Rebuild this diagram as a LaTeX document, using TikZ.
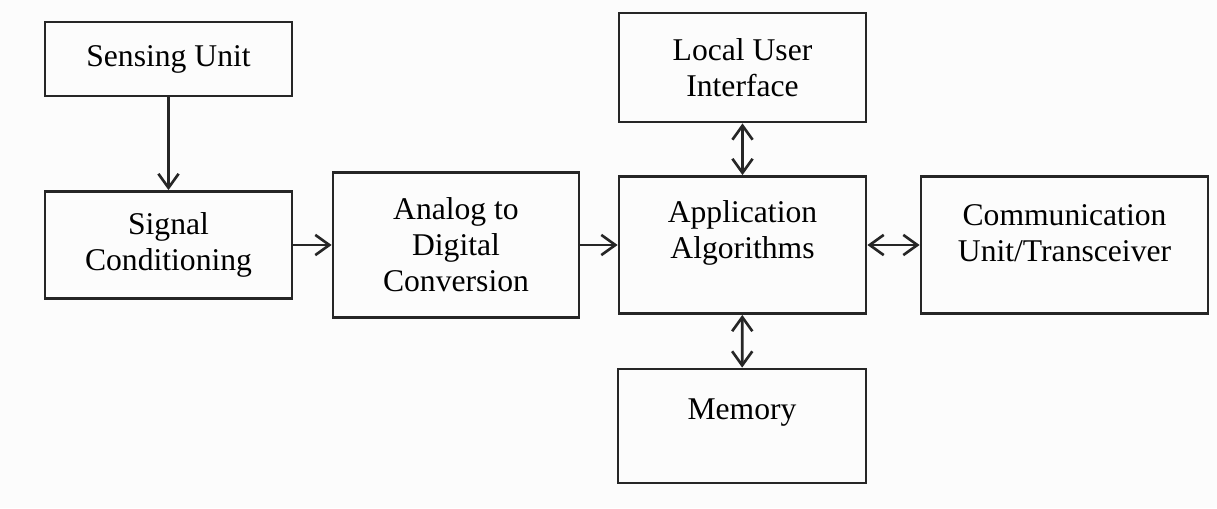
\documentclass[tikz,border=0pt]{standalone}
\usepackage{fontspec}
\setmainfont{Liberation Serif}
\usepackage{tikz}
\usetikzlibrary{arrows.meta,positioning}

\tikzset{
  blk/.style={draw=black!85, line width=1.6pt, rectangle, align=center, inner sep=0pt, font=\fontsize{18}{20.5}\selectfont},
  lbl/.style={align=center, inner sep=0pt, font=\fontsize{18}{20.5}\selectfont},
  link/.style={draw=black!85, line width=1.5pt},
  >={Straight Barb[length=8pt,width=11.5pt]}
}

\begin{document}
\begin{tikzpicture}
\useasboundingbox (0,0) rectangle (24.34,10.16);
\fill[black!1] (0,0) rectangle (24.34,10.16);

\node[blk, minimum width=4.94cm, minimum height=1.48cm] (sense) at (3.37,8.98) {Sensing Unit};
\node[blk, minimum width=4.94cm, minimum height=2.14cm] (sig) at (3.37,5.26) {Signal\\Conditioning};
\node[blk, minimum width=4.92cm, minimum height=2.90cm] (adc) at (9.12,5.26) {Analog to\\Digital\\Conversion};
\node[blk, minimum width=4.94cm, minimum height=2.74cm] (app) at (14.85,5.26) {};
\node[lbl] (appT) at ([yshift=0.24cm]app.center) {Application\\Algorithms};
\node[blk, minimum width=4.94cm, minimum height=2.18cm] (lui) at (14.85,8.81) {Local User\\Interface};
\node[blk, minimum width=4.96cm, minimum height=2.28cm] (mem) at (14.84,1.64) {};
\node[lbl] (memT) at ([yshift=0.26cm]mem.center) {Memory};
\node[blk, minimum width=5.74cm, minimum height=2.74cm] (comm) at (21.29,5.26) {};
\node[lbl] (commT) at ([yshift=0.24cm]comm.center) {Communication\\Unit/Transceiver};

\draw[link,->] (sense) -- (sig);
\draw[link,->] (sig) -- (adc);
\draw[link,->] (adc) -- (app);
\draw[link,<->] (app) -- (lui);
\draw[link,<->] (app) -- (comm);
\draw[link,<->] (app) -- (mem);
\end{tikzpicture}
\end{document}
